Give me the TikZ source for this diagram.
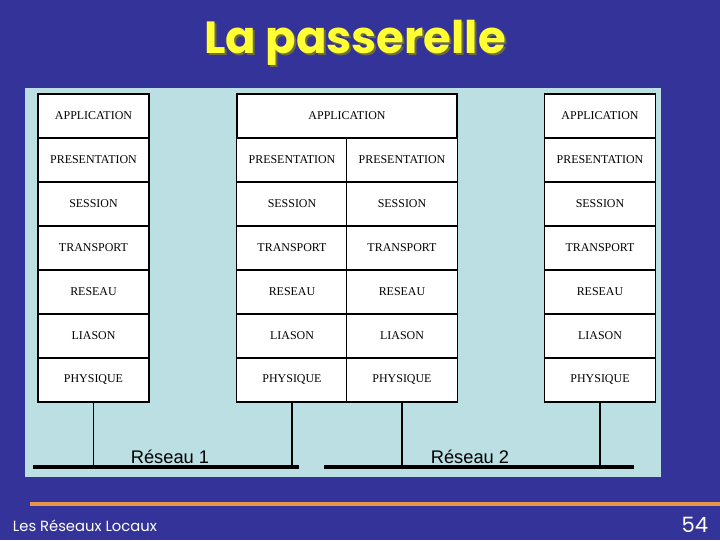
\documentclass[tikz,border=0pt]{standalone}
\usepackage{fontspec}
\setmainfont{Liberation Serif}
\newfontfamily\labelfont{Liberation Sans}
\newfontfamily\slidefont{Poppins}
\usepackage{tikz}
\usetikzlibrary{positioning, calc}
\definecolor{colSlide} {HTML}{333399}
\definecolor{colPanel} {HTML}{BBDFE3}
\definecolor{colTitle} {HTML}{FFFF33}
\definecolor{colShadow}{HTML}{6E6E3A}
\definecolor{colRule}  {HTML}{E8954A}
\tikzset{
  layer/.style={
    draw=black, fill=white, line width=0.9pt,
    minimum width=2.775cm, minimum height=1.1cm,
    inner sep=0pt, font=\fontsize{8.5}{10}\selectfont
  },
  wide/.style={layer, minimum width=5.5cm},
  bus/.style={line width=3pt, draw=black},
  drop/.style={line width=0.9pt, draw=black},
  netlbl/.style={font=\labelfont\fontsize{13}{15}\selectfont, inner sep=0pt}
}
\begin{document}
\begin{tikzpicture}[x=0.025cm, y=-0.025cm]
  % slide background and panel
  \fill[colSlide] (0,0) rectangle (720,540);
  \useasboundingbox (0,0) rectangle (720,540);
  \fill[colPanel] (25,88) rectangle (661,477);
  % title
  \node[text=colShadow, font=\slidefont\bfseries\fontsize{32}{36}\selectfont] at (357,45) {La passerelle};
  \node[text=colTitle, font=\slidefont\bfseries\fontsize{32}{36}\selectfont] (title) at (355,43) {La passerelle};

  % host A
  \foreach \txt [count=\i] in {APPLICATION,PRESENTATION,SESSION,TRANSPORT,RESEAU,LIASON,PHYSIQUE}
    \node[layer] (hA\i) at (93.5,{116+44*(\i-1)}) {\txt};
  % gateway
  \node[wide] (gApp) at (347,116) {APPLICATION};
  \foreach \txt [count=\i from 2] in {PRESENTATION,SESSION,TRANSPORT,RESEAU,LIASON,PHYSIQUE}{
    \node[layer] (gL\i) at (292,{116+44*(\i-1)}) {\txt};
    \node[layer] (gR\i) at (402,{116+44*(\i-1)}) {\txt};
  }
  % host B
  \foreach \txt [count=\i] in {APPLICATION,PRESENTATION,SESSION,TRANSPORT,RESEAU,LIASON,PHYSIQUE}
    \node[layer] (hB\i) at (600,{116+44*(\i-1)}) {\txt};

  % networks
  \coordinate (n1w) at (33,467);  \coordinate (n1e) at (299,467);
  \coordinate (n2w) at (324,467); \coordinate (n2e) at (634,467);
  \draw[bus] (n1w) -- (n1e);
  \draw[bus] (n2w) -- (n2e);
  \draw[drop] (hA7.south) -- (hA7.south |- n1w);
  \draw[drop] (gL7.south) -- (gL7.south |- n1w);
  \draw[drop] (gR7.south) -- (gR7.south |- n2w);
  \draw[drop] (hB7.south) -- (hB7.south |- n2w);
  \node[netlbl] (r1) at (170,457) {Réseau 1};
  \node[netlbl] (r2) at (470,457) {Réseau 2};

  % footer
  \draw[colRule, line width=2.2pt] (30,504) -- (720,504);
  \node[anchor=west, text=white, font=\slidefont\fontsize{10.5}{12}\selectfont] (foot) at (8,526) {Les Réseaux Locaux};
  \node[anchor=east, text=white, font=\slidefont\fontsize{15}{17}\selectfont] (page) at (713,525) {54};
\end{tikzpicture}
\end{document}
